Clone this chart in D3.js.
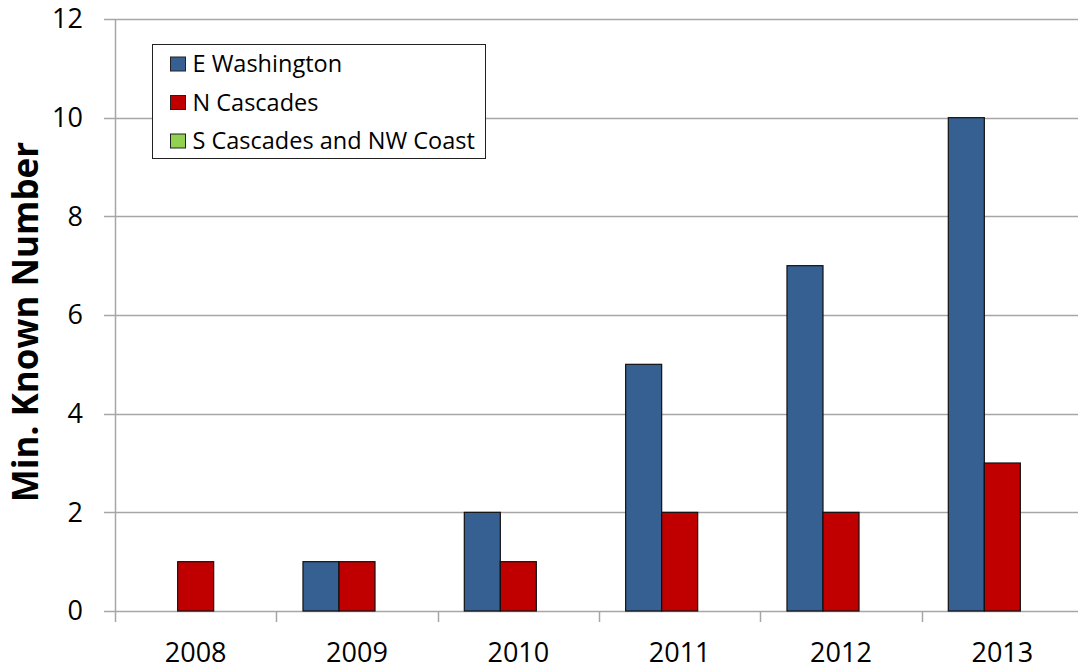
<!DOCTYPE html>
<html>
<head>
<meta charset="utf-8">
<script src="https://cdn.jsdelivr.net/npm/d3@7"></script>
<style>
  body { margin: 0; background: #fff; }
  text { font-family: "Open Sans", "DejaVu Sans", sans-serif; fill: #000; }
</style>
</head>
<body>
<div id="chart"></div>
<script>
// Chart data
const years = ["2008", "2009", "2010", "2011", "2012", "2013"];
const seriesNames = ["E Washington", "N Cascades", "S Cascades and NW Coast"];
const eWashington = [0, 1, 2, 5, 7, 10];
const nCascades = [1, 1, 1, 2, 2, 3];
const sCascadesNWCoast = [0, 0, 0, 0, 0, 0];
const seriesColors = ["#376092", "#C00000", "#92D050"];
const yTicks = [0, 2, 4, 6, 8, 10, 12];

const width = 1078, height = 669;
const margin = { top: 19, right: -5, bottom: 58, left: 115 };

const svg = d3.select("#chart").append("svg")
  .attr("width", width)
  .attr("height", height);

const x = d3.scaleBand()
  .domain(years)
  .range([margin.left, width - margin.right]);

const y = d3.scaleLinear()
  .domain([0, 12])
  .range([height - margin.bottom, margin.top]);

// 3 bars of ~36px centred in each ~161px category
const x1 = d3.scaleBand()
  .domain(seriesNames)
  .range([0, x.bandwidth()])
  .paddingOuter(0.74)
  .paddingInner(0);

// gridlines
svg.append("g")
  .selectAll("line")
  .data(yTicks)
  .join("line")
  .attr("x1", margin.left - 11)
  .attr("x2", width - margin.right)
  .attr("y1", d => Math.round(y(d)) + 0.5)
  .attr("y2", d => Math.round(y(d)) + 0.5)
  .attr("stroke", "#a6a6a6")
  .attr("stroke-width", 1.5);

// y axis line
svg.append("line")
  .attr("x1", margin.left + 0.5).attr("x2", margin.left + 0.5)
  .attr("y1", y(12)).attr("y2", y(0))
  .attr("stroke", "#a6a6a6")
  .attr("stroke-width", 1.5);

// y tick labels
svg.append("g")
  .selectAll("text")
  .data(yTicks)
  .join("text")
  .attr("x", 83)
  .attr("y", d => y(d))
  .attr("dy", "0.35em")
  .attr("text-anchor", "end")
  .style("font-size", "27px")
  .text(d => d);

// x axis ticks
const xTickPos = years.map(d => x(d)).concat([x(years[years.length - 1]) + x.bandwidth()]);
svg.append("g")
  .selectAll("line")
  .data(xTickPos)
  .join("line")
  .attr("x1", d => Math.round(d) + 0.5)
  .attr("x2", d => Math.round(d) + 0.5)
  .attr("y1", y(0))
  .attr("y2", y(0) + 11)
  .attr("stroke", "#a6a6a6")
  .attr("stroke-width", 1.5);

// x labels
svg.append("g")
  .selectAll("text")
  .data(years)
  .join("text")
  .attr("x", d => x(d) + x.bandwidth() / 2)
  .attr("y", 662)
  .attr("text-anchor", "middle")
  .style("font-size", "27px")
  .text(d => d);

// bars
const allSeries = [eWashington, nCascades, sCascadesNWCoast];
const groups = svg.append("g")
  .selectAll("g")
  .data(years)
  .join("g")
  .attr("transform", d => `translate(${x(d)},0)`);

groups.selectAll("rect")
  .data((d, i) => seriesNames.map((s, k) => ({ series: s, k: k, value: allSeries[k][i] })))
  .join("rect")
  .filter(d => d.value > 0)
  .attr("x", d => x1(d.series))
  .attr("width", x1.bandwidth())
  .attr("y", d => y(d.value))
  .attr("height", d => y(0) - y(d.value))
  .attr("fill", d => seriesColors[d.k])
  .attr("stroke", "#111")
  .attr("stroke-width", 1.2);

// y axis title
svg.append("text")
  .attr("transform", `translate(38,${(y(0) + y(12)) / 2 + 7}) rotate(-90)`)
  .attr("text-anchor", "middle")
  .style("font-size", "35px")
  .style("font-weight", "bold")
  .text("Min. Known Number");

// legend
const legend = svg.append("g").attr("transform", "translate(152.5,44.5)");
legend.append("rect")
  .attr("width", 333)
  .attr("height", 114)
  .attr("fill", "#fff")
  .attr("stroke", "#222")
  .attr("stroke-width", 1);

const item = legend.selectAll("g.item")
  .data(seriesNames)
  .join("g")
  .attr("class", "item")
  .attr("transform", (d, i) => `translate(18,${19.5 + i * 38.5})`);

item.append("rect")
  .attr("x", 0).attr("y", -7)
  .attr("width", 15).attr("height", 14)
  .attr("fill", (d, i) => seriesColors[i])
  .attr("stroke", "#222")
  .attr("stroke-width", 1);

item.append("text")
  .attr("x", 22)
  .attr("y", 0)
  .attr("dy", "0.35em")
  .style("font-size", "23.5px")
  .text(d => d);
</script>
</body>
</html>
